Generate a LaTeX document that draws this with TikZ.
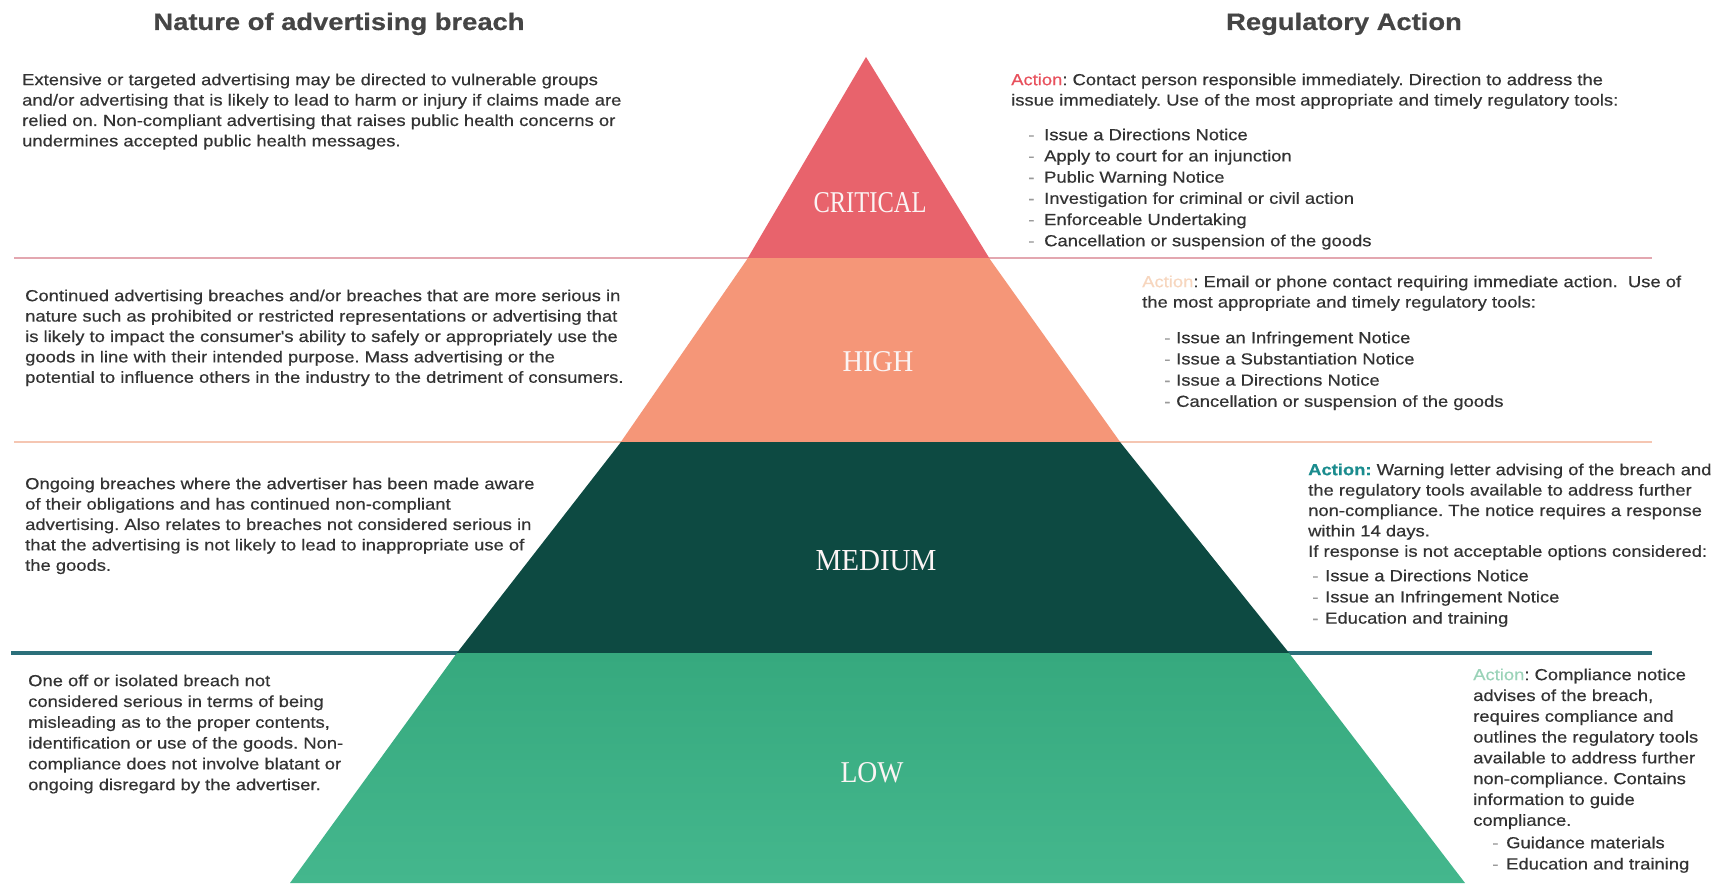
\documentclass[tikz,border=0pt]{standalone}
\usepackage{fontspec}
\setmainfont{Liberation Sans}
\newfontfamily\bodyfont[FakeStretch=1.15,FakeBold=0.5]{Liberation Sans}
\newfontfamily\lblfont{Liberation Serif}
\frenchspacing
\definecolor{ttlgray}{HTML}{454545}
\definecolor{txtgray}{HTML}{333333}
\definecolor{critred}{HTML}{E8636C}
\definecolor{highsal}{HTML}{F59678}
\definecolor{medteal}{HTML}{0D4A42}
\definecolor{lowgreenA}{HTML}{36A97E}
\definecolor{lowgreenB}{HTML}{44B78D}
\definecolor{actred}{HTML}{E8505C}
\definecolor{actpale}{HTML}{F7D6BE}
\definecolor{actteal}{HTML}{1A8C8E}
\definecolor{actgreen}{HTML}{9AD3B8}
\definecolor{sepA}{HTML}{E3A7B0}
\definecolor{sepB}{HTML}{F5C6B2}
\definecolor{sepC}{HTML}{2B6F7A}
\definecolor{dashgray}{HTML}{9A9A9A}
\definecolor{lblwhite}{HTML}{FBF4F4}
\tikzset{
  body/.style={anchor=north west, inner sep=0pt, align=left, text=txtgray,
    font=\bodyfont\fontsize{16}{20.4}\selectfont},
  bodywide/.style={body, font=\bodyfont\fontsize{16}{20.8}\selectfont},
  blist/.style={body, font=\bodyfont\fontsize{16}{21.2}\selectfont},
  ttl/.style={anchor=base, inner sep=0pt, text=ttlgray,
    font=\bodyfont\bfseries\fontsize{23.8}{28}\selectfont},
  lvl/.style={inner sep=0pt, text=lblwhite, font=\lblfont\fontsize{28}{30}\selectfont},
  sepline/.style={line width=2pt},
  band/.style={draw=none},
}
\newcommand{\dsh}[1]{\makebox[#1][l]{\textcolor{dashgray}{-}}}
\begin{document}
\begin{tikzpicture}[x=1pt,y=-1pt]
\useasboundingbox (0,0) rectangle (1720,883);
\fill[white] (0,0) rectangle (1720,883);

% separator lines
\coordinate (s1a) at (14,258);  \coordinate (s1b) at (1652,258);
\coordinate (s2a) at (14,442);  \coordinate (s2b) at (1652,442);
\coordinate (s3a) at (11,653);  \coordinate (s3b) at (1652,653);
\draw[sepline, draw=sepA] (s1a) -- (s1b);
\draw[sepline, draw=sepB] (s2a) -- (s2b);
\draw[line width=3.5pt, draw=sepC] (s3a) -- (s3b);

% pyramid
\fill[band, critred] (866,57) -- (989.5,258.5) -- (747.5,258.5) -- cycle;
\fill[band, highsal] (748,258) -- (989,258) -- (1120.5,442.5) -- (620.5,442.5) -- cycle;
\fill[band, medteal] (621,442) -- (1120,442) -- (1289.5,653.5) -- (456.5,653.5) -- cycle;
\shade[band, top color=lowgreenA, bottom color=lowgreenB] (457,653) -- (1289,653) -- (1465,883) -- (290,883) -- cycle;

% level labels
\node[lvl] (tcrit) at (870,203) {\resizebox{113pt}{20pt}{CRITICAL}};
\node[lvl] (thigh) at (878,362) {\resizebox{71pt}{20pt}{HIGH}};
\node[lvl] (tmed) at (876,561) {\resizebox{121pt}{20pt}{MEDIUM}};
\node[lvl] (tlow) at (872,773) {\resizebox{63pt}{20pt}{LOW}};

% titles
\node[ttl] (ttlL) at (339,30) {Nature of advertising breach};
\node[ttl] (ttlR) at (1344,30) {Regulatory Action};

% left column
\node[body] (lcrit) at (22,70.7) {\strut Extensive or targeted advertising may be directed to vulnerable groups\\
and/or advertising that is likely to lead to harm or injury if claims made are\\
relied on. Non-compliant advertising that raises public health concerns or\\
undermines accepted public health messages.};

\node[body] (lhigh) at (25,286.7) {\strut Continued advertising breaches and/or breaches that are more serious in\\
nature such as prohibited or restricted representations or advertising that\\
is likely to impact the consumer's ability to safely or appropriately use the\\
goods in line with their intended purpose. Mass advertising or the\\
potential to influence others in the industry to the detriment of consumers.};

\node[body] (lmed) at (25,474.7) {\strut Ongoing breaches where the advertiser has been made aware\\
of their obligations and has continued non-compliant\\
advertising. Also relates to breaches not considered serious in\\
that the advertising is not likely to lead to inappropriate use of\\
the goods.};

\node[bodywide] (llow) at (28,671.4) {\strut One off or isolated breach not\\
considered serious in terms of being\\
misleading as to the proper contents,\\
identification or use of the goods. Non-\\
compliance does not involve blatant or\\
ongoing disregard by the advertiser.};

% right column - critical
\node[body] (rcrit) at (1011,70.7) {\strut\textcolor{actred}{Action}: Contact person responsible immediately. Direction to address the\\
issue immediately. Use of the most appropriate and timely regulatory tools:};
\node[blist] (rcritl) at (1028,125.2) {\strut\dsh{16pt}Issue a Directions Notice\\
\dsh{16pt}Apply to court for an injunction\\
\dsh{16pt}Public Warning Notice\\
\dsh{16pt}Investigation for criminal or civil action\\
\dsh{16pt}Enforceable Undertaking\\
\dsh{16pt}Cancellation or suspension of the goods};

% right column - high
\node[body] (rhigh) at (1142,272.7) {\strut\textcolor{actpale}{Action}: Email or phone contact requiring immediate action.\ \ Use of\\
the most appropriate and timely regulatory tools:};
\node[blist] (rhighl) at (1164,328.2) {\strut\dsh{12pt}Issue an Infringement Notice\\
\dsh{12pt}Issue a Substantiation Notice\\
\dsh{12pt}Issue a Directions Notice\\
\dsh{12pt}Cancellation or suspension of the goods};

% right column - medium
\node[body] (rmed) at (1308,460.7) {\strut\textcolor{actteal}{\bfseries Action:} Warning letter advising of the breach and\\
the regulatory tools available to address further\\
non-compliance. The notice requires a response\\
within 14 days.\\
If response is not acceptable options considered:};
\node[blist] (rmedl) at (1312,566.2) {\strut\dsh{13pt}Issue a Directions Notice\\
\dsh{13pt}Issue an Infringement Notice\\
\dsh{13pt}Education and training};

% right column - low
\node[bodywide] (rlow) at (1473,665.4) {\strut\textcolor{actgreen}{Action}: Compliance notice\\
advises of the breach,\\
requires compliance and\\
outlines the regulatory tools\\
available to address further\\
non-compliance. Contains\\
information to guide\\
compliance.};
\node[blist] (rlowl) at (1492,833.2) {\strut\dsh{14pt}Guidance materials\\
\dsh{14pt}Education and training};
\end{tikzpicture}
\end{document}
